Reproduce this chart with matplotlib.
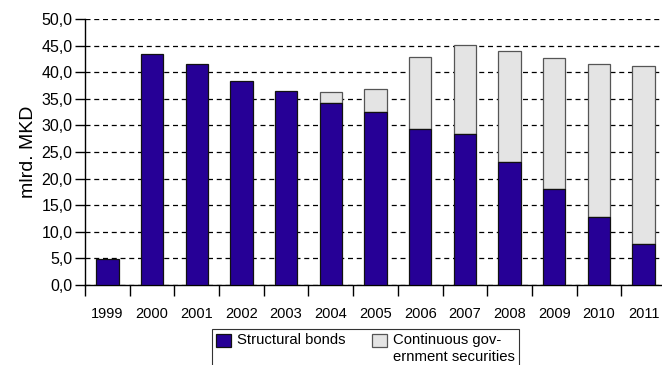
"""Structural bonds vs continuous government securities, stacked bars"""
import matplotlib
matplotlib.use('Agg')
import matplotlib.pyplot as plt
from matplotlib.legend_handler import HandlerPatch
from matplotlib.patches import Rectangle
import numpy as np

years = ['1999', '2000', '2001', '2002', '2003', '2004', '2005',
         '2006', '2007', '2008', '2009', '2010', '2011']
structural = [4.9, 43.4, 41.6, 38.3, 36.5, 34.2, 32.6, 29.4, 28.3, 23.1, 18.0, 12.7, 7.8]
continuous = [0.0, 0.0, 0.0, 0.0, 0.0, 2.0, 4.3, 13.5, 16.9, 20.9, 24.7, 28.8, 33.4]
y_ticks = [0, 5, 10, 15, 20, 25, 30, 35, 40, 45, 50]


def comma_label(v):
    return f"{v:.1f}".replace('.', ',')


def top_line_patch(legend, orig_handle, xdescent, ydescent, width, height, fontsize):
    """Legend box that sits next to the first line of a two-line label"""
    return Rectangle((-xdescent, -ydescent + 0.57 * fontsize), width, height)


def main():
    plt.rcParams['font.family'] = ['Liberation Sans', 'DejaVu Sans']
    fig = plt.figure(figsize=(6.62, 3.65), dpi=100)
    ax = fig.add_axes([85 / 662, 80 / 365, 581 / 662, 266 / 365])

    xs = np.arange(len(years))
    ax.set_axisbelow(True)
    b1 = ax.bar(xs, structural, width=0.5, color='#260096', edgecolor='#111111',
                linewidth=0.9, zorder=3)
    cont_x = [x for x, c in zip(xs, continuous) if c > 0]
    cont_v = [c for c in continuous if c > 0]
    cont_b = [s for s, c in zip(structural, continuous) if c > 0]
    b2 = ax.bar(cont_x, cont_v, bottom=cont_b, width=0.5, color='#e4e4e4',
                edgecolor='#555555', linewidth=0.9, zorder=2)

    ax.set_xlim(-0.5, len(years) - 0.5)
    ax.set_ylim(0, 50)
    ax.set_yticks(y_ticks)
    ax.set_yticklabels([comma_label(v) for v in y_ticks], fontsize=11.5)
    ax.set_xticks(xs)
    ax.set_xticklabels(years, fontsize=10.5)
    ax.set_xticks(np.arange(-0.5, len(years), 1.0), minor=True)
    ax.tick_params(axis='x', which='major', length=0, pad=16)
    ax.tick_params(axis='x', which='minor', length=8, width=1, direction='out')
    ax.tick_params(axis='y', length=7, width=1, direction='out', pad=2)

    ax.grid(True, axis='y', color='black', linestyle=(0, (4, 3)), linewidth=0.9)
    ax.spines['top'].set_visible(False)
    ax.spines['right'].set_visible(False)
    ax.spines['left'].set_linewidth(1)
    ax.spines['bottom'].set_linewidth(1)
    ax.set_ylabel('mlrd. MKD', fontsize=14, labelpad=3)

    h1, h2 = b1.patches[0], b2.patches[0]
    handler = HandlerPatch(patch_func=top_line_patch)
    leg = fig.legend([h1, h2], ['Structural bonds\n ', 'Continuous gov-\nernment securities'],
                     loc='upper left', bbox_to_anchor=(212 / 662, 1 - 329 / 365),
                     ncol=2, fontsize=10.7, frameon=True, fancybox=False,
                     edgecolor='black', handlelength=1.0, handleheight=1.0,
                     borderpad=0.3, columnspacing=1.75, handletextpad=0.4,
                     borderaxespad=0, labelspacing=0.1,
                     handler_map={h1: handler, h2: handler})
    leg.get_frame().set_linewidth(0.8)

    fig.savefig('out.png', dpi=100)


if __name__ == "__main__":
    main()
